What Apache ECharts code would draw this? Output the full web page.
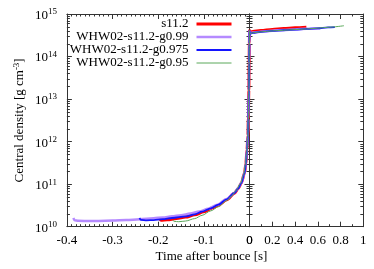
<!DOCTYPE html>
<html><head><meta charset="utf-8">
<script src="https://cdn.jsdelivr.net/npm/echarts@6/dist/echarts.min.js"></script>
<style>html,body{margin:0;padding:0;background:#fff}#c{width:374px;height:269px}</style>
</head><body><div id="c"></div>
<script>
const seriesNames = ['s11.2', 'WHW02-s11.2-g0.99', 'WHW02-s11.2-g0.975', 'WHW02-s11.2-g0.95'];
const seriesColors = ['#ff0000', '#b58aff', '#1414ff', '#5aa85a'];
const seriesWidths = [3, 2.5, 1.8, 1];

// pre-bounce (left panel): time [s], central density [g cm^-3]
const tPre_s112 = [-0.197,-0.194,-0.18,-0.16,-0.14,-0.12,-0.10,-0.08,-0.068,-0.05,-0.033,-0.025,-0.018,-0.011,-0.008,-0.0055,-0.0035,-0.0025,-0.0015,-0.0008,-0.0003,0];
const rhoPre_s112 = [1.58e10,1.42e10,1.45e10,1.55e10,1.68e10,1.9e10,2.25e10,2.8e10,3.2e10,4.3e10,6.1e10,7.8e10,1.05e11,1.8e11,3e11,6.4e11,1.4e12,3.5e12,1.6e13,7e13,2e14,3.6e14];
const tPre_g099 = [-0.386,-0.383,-0.375,-0.35,-0.33,-0.3,-0.27,-0.24,-0.21,-0.19,-0.17,-0.15,-0.13,-0.11,-0.09,-0.07,-0.05,-0.033,-0.025,-0.018,-0.011,-0.008,-0.0055,-0.0035,-0.0025,-0.0015,-0.0008,-0.0003,0];
const rhoPre_g099 = [1.6e10,1.42e10,1.38e10,1.36e10,1.37e10,1.39e10,1.43e10,1.5e10,1.58e10,1.65e10,1.75e10,1.87e10,2.03e10,2.28e10,2.65e10,3.3e10,4.5e10,6.3e10,8e10,1.07e11,1.8e11,3e11,6.4e11,1.4e12,3.5e12,1.6e13,7e13,2e14,3.6e14];
const tPre_g0975 = [-0.241,-0.238,-0.225,-0.21,-0.19,-0.17,-0.139,-0.12,-0.104,-0.085,-0.068,-0.05,-0.033,-0.025,-0.018,-0.011,-0.008,-0.0055,-0.0035,-0.0025,-0.0015,-0.0008,-0.0003,0];
const rhoPre_g0975 = [1.6e10,1.45e10,1.41e10,1.43e10,1.5e10,1.6e10,1.75e10,1.95e10,2.25e10,2.7e10,3.3e10,4.4e10,6.2e10,7.9e10,1.06e11,1.8e11,3e11,6.4e11,1.4e12,3.5e12,1.6e13,7e13,2e14,3.6e14];
const tPre_g095 = [-0.168,-0.165,-0.155,-0.14,-0.12,-0.104,-0.085,-0.068,-0.05,-0.04,-0.03,-0.02,-0.013,-0.009,-0.006,-0.0038,-0.0026,-0.0016,-0.0009,-0.0004,0];
const rhoPre_g095 = [1.42e10,1.33e10,1.31e10,1.36e10,1.55e10,1.85e10,2.35e10,2.95e10,4.1e10,5.2e10,7e10,1.02e11,1.65e11,2.8e11,5.5e11,1.3e12,3.3e12,1.5e13,6.5e13,1.9e14,3.6e14];

// post-bounce (right panel)
const tPost_s112 = [0,0.002,0.006,0.03,0.1,0.2,0.3,0.4,0.5];
const rhoPost_s112 = [4.3e14,3.7e14,3.8e14,3.9e14,4.1e14,4.35e14,4.55e14,4.75e14,4.9e14];
const tPost_g099 = [0,0.002,0.006,0.03,0.1,0.2,0.3,0.4,0.5,0.62];
const rhoPost_g099 = [4.1e14,3.45e14,3.55e14,3.65e14,3.85e14,4.05e14,4.2e14,4.35e14,4.5e14,4.6e14];
const tPost_g0975 = [0,0.002,0.006,0.03,0.1,0.2,0.3,0.4,0.5,0.6,0.69,0.75];
const rhoPost_g0975 = [4.1e14,3.4e14,3.5e14,3.6e14,3.8e14,4.0e14,4.15e14,4.3e14,4.45e14,4.6e14,4.85e14,4.9e14];
const tPost_g095 = [0,0.002,0.006,0.03,0.1,0.2,0.3,0.4,0.5,0.6,0.7,0.83];
const rhoPost_g095 = [4.1e14,3.4e14,3.5e14,3.6e14,3.8e14,4.0e14,4.15e14,4.3e14,4.45e14,4.65e14,4.9e14,5.3e14];

const yMin = 1e10, yMax = 1e15;
const decades = [10, 11, 12, 13, 14];
const minorMultipliers = [2, 3, 4, 5, 6, 7, 8, 9];

const preT = [tPre_s112, tPre_g099, tPre_g0975, tPre_g095];
const preR = [rhoPre_s112, rhoPre_g099, rhoPre_g0975, rhoPre_g095];
const postT = [tPost_s112, tPost_g099, tPost_g0975, tPost_g095];
const postR = [rhoPost_s112, rhoPost_g099, rhoPost_g0975, rhoPost_g095];

const zip = (a, b) => a.map((v, i) => [v, b[i]]);
const FONT = 'Liberation Serif';
const AX = '#333';
const TXT = '#000';

const minorVals = [];
decades.forEach(d => minorMultipliers.forEach(m => minorVals.push(m * Math.pow(10, d))));

function minorTickRender(params, api) {
  const cs = params.coordSys;
  const p = api.coord([api.value(0), api.value(1)]);
  const y = Math.round(p[1]) + 0.5;
  const st = { stroke: AX, lineWidth: 1 };
  return { type: 'group', children: [
    { type: 'line', shape: { x1: cs.x, y1: y, x2: cs.x + 3, y2: y }, style: st },
    { type: 'line', shape: { x1: cs.x + cs.width - 3, y1: y, x2: cs.x + cs.width, y2: y }, style: st }
  ]};
}

const gridTop = 14, gridH = 212.7;
const grids = [
  { left: 60, top: gridTop, width: 189.5, height: gridH },
  { left: 249.5, top: gridTop, width: 113.8, height: gridH }
];

function xAx(gi, pos, min, max, interval, minorSplit, showLabel) {
  return {
    type: 'value', gridIndex: gi, position: pos, min: min, max: max, interval: interval,
    axisLine: { show: true, onZero: false, lineStyle: { color: AX, width: 1 } },
    axisTick: { show: true, inside: true, length: 5, lineStyle: { color: AX } },
    minorTick: { show: true, splitNumber: minorSplit, length: 2.5, lineStyle: { color: AX } },
    splitLine: { show: false },
    axisLabel: { show: showLabel, margin: 7, fontFamily: FONT, fontSize: 13, color: TXT,
      formatter: v => String(Math.round(v * 10) / 10) }
  };
}
function yAx(gi, pos, showLabel) {
  return {
    type: 'log', logBase: 10, gridIndex: gi, position: pos, min: yMin, max: yMax,
    axisLine: { show: true, onZero: false, lineStyle: { color: AX, width: 1 } },
    axisTick: { show: true, inside: true, length: 5, lineStyle: { color: AX } },
    splitLine: { show: false },
    axisLabel: { show: showLabel, margin: 10, fontFamily: FONT, color: TXT,
      formatter: v => '{b|10}{s|' + Math.round(Math.log10(v)) + '}',
      rich: {
        b: { fontFamily: FONT, fontSize: 13, color: TXT, lineHeight: 13, padding: [3, 0, 0, 0] },
        s: { fontFamily: FONT, fontSize: 9, color: TXT, lineHeight: 9, verticalAlign: 'top' }
      }
    },
    name: showLabel ? 'Central density [g cm{s|-3}]' : '',
    nameLocation: 'middle', nameGap: 39,
    nameTextStyle: { fontFamily: FONT, fontSize: 13, color: TXT, lineHeight: 16,
      rich: { s: { fontFamily: FONT, fontSize: 9, color: TXT, lineHeight: 9, verticalAlign: 'top' } } }
  };
}

const series = [];
seriesNames.forEach((name, i) => {
  const common = { type: 'line', name: name, symbol: 'none', smooth: 0.3, smoothMonotone: 'x',
    lineStyle: { color: seriesColors[i], width: seriesWidths[i] }, itemStyle: { color: seriesColors[i] },
    silent: true, z: 2 + i };
  series.push(Object.assign({}, common, { xAxisIndex: 0, yAxisIndex: 0, data: zip(preT[i], preR[i]) }));
  series.push(Object.assign({}, common, { xAxisIndex: 2, yAxisIndex: 2, data: zip(postT[i], postR[i]) }));
});
series.push({ type: 'custom', xAxisIndex: 0, yAxisIndex: 0, silent: true, clip: false, z: 1,
  renderItem: minorTickRender, data: minorVals.map(v => [-0.2, v]) });
series.push({ type: 'custom', xAxisIndex: 2, yAxisIndex: 2, silent: true, clip: false, z: 1,
  renderItem: minorTickRender, data: minorVals.map(v => [0.5, v]) });

const chart = echarts.init(document.getElementById('c'), null, { renderer: 'canvas' });
chart.setOption({
  animation: false,
  backgroundColor: '#fff',
  grid: grids,
  xAxis: [
    xAx(0, 'bottom', -0.4, 0, 0.1, 10, true),
    xAx(0, 'top', -0.4, 0, 0.1, 10, false),
    xAx(1, 'bottom', 0, 1, 0.2, 2, true),
    xAx(1, 'top', 0, 1, 0.2, 2, false)
  ],
  yAxis: [
    yAx(0, 'left', true),
    yAx(0, 'right', false),
    yAx(1, 'left', false),
    yAx(1, 'right', false)
  ],
  legend: {
    data: seriesNames.map((n, i) => ({ name: n, lineStyle: { width: seriesWidths[i], color: seriesColors[i] } })),
    orient: 'vertical', align: 'right', right: 141, top: 17.5,
    itemWidth: 35, itemHeight: 6, itemGap: 0, padding: 0, selectedMode: false,
    itemStyle: { opacity: 0, borderWidth: 0 },
    textStyle: { fontFamily: FONT, fontSize: 13, lineHeight: 13, color: TXT, padding: [0, 3, 0, 0] }
  },
  graphic: [{ type: 'text', x: 211.5, y: 256.5,
    style: { text: 'Time after bounce [s]', font: '13px "Liberation Serif"', fill: TXT,
      align: 'center', verticalAlign: 'middle' } }],
  series: series
});
</script></body></html>
